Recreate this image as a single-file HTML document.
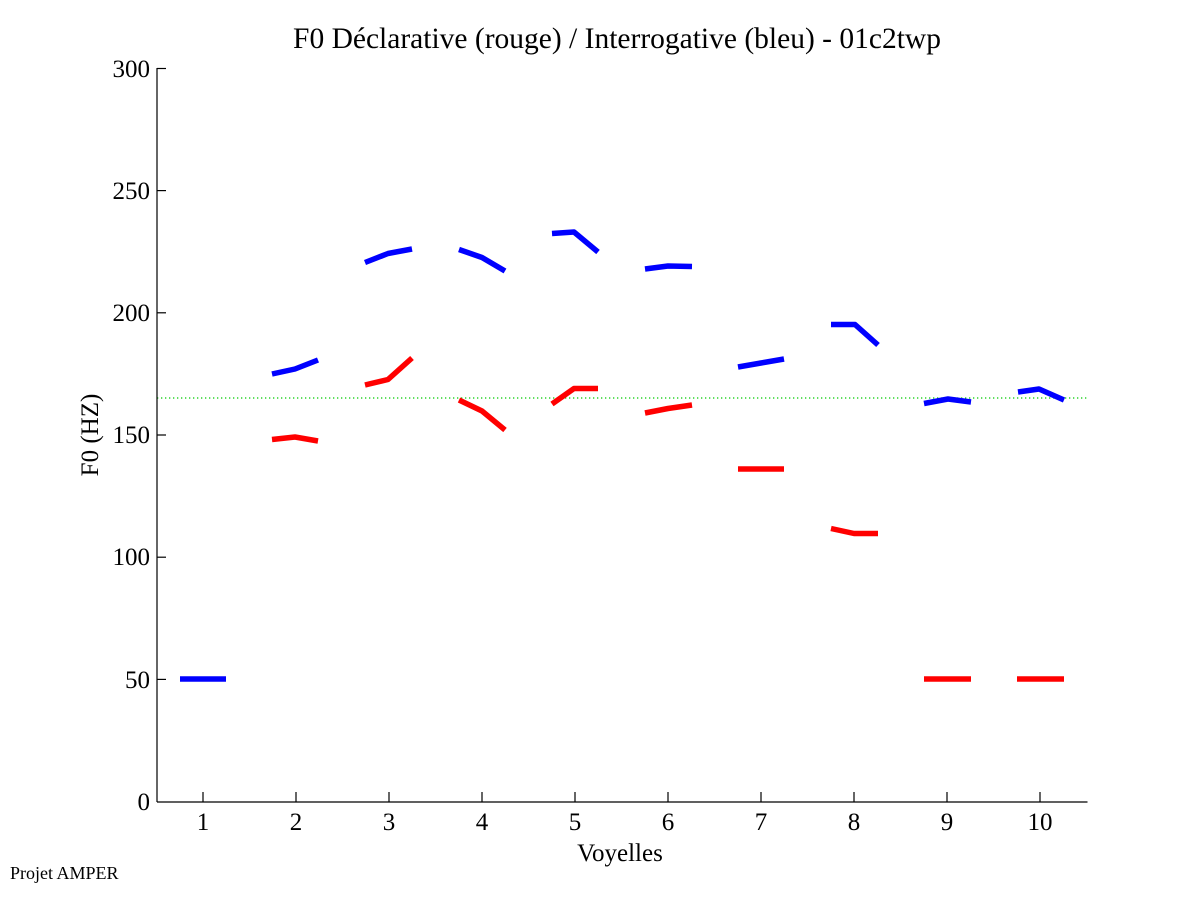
<!DOCTYPE html>
<html>
<head>
<meta charset="utf-8">
<style>
html,body{margin:0;padding:0;background:#fff;}
svg{display:block;}
text{font-family:"Liberation Serif","Times New Roman",serif;fill:#000;}
</style>
</head>
<body>
<svg width="1201" height="901" viewBox="0 0 1201 901" xmlns="http://www.w3.org/2000/svg">
<rect x="0" y="0" width="1201" height="901" fill="#fff"/>
<!-- title -->
<text x="617" y="48" font-size="29.5" text-anchor="middle">F0 Déclarative (rouge) / Interrogative (bleu) - 01c2twp</text>

<!-- green reference line -->
<line x1="157" y1="398" x2="1087" y2="398" stroke="#00cc00" stroke-width="1.3" stroke-dasharray="1.3 2.7"/>

<!-- axes -->
<g stroke="#000" stroke-width="1.2" fill="none">
<line x1="157" y1="68" x2="157" y2="802"/>
<line x1="157" y1="802" x2="1087.5" y2="802"/>
<!-- y ticks -->
<line x1="157" y1="68.5" x2="166" y2="68.5"/>
<line x1="157" y1="190.6" x2="166" y2="190.6"/>
<line x1="157" y1="312.8" x2="166" y2="312.8"/>
<line x1="157" y1="435" x2="166" y2="435"/>
<line x1="157" y1="557.2" x2="166" y2="557.2"/>
<line x1="157" y1="679.4" x2="166" y2="679.4"/>
<!-- x ticks -->
<line x1="203" y1="802" x2="203" y2="792"/>
<line x1="296" y1="802" x2="296" y2="792"/>
<line x1="389" y1="802" x2="389" y2="792"/>
<line x1="482" y1="802" x2="482" y2="792"/>
<line x1="575" y1="802" x2="575" y2="792"/>
<line x1="668" y1="802" x2="668" y2="792"/>
<line x1="761" y1="802" x2="761" y2="792"/>
<line x1="854" y1="802" x2="854" y2="792"/>
<line x1="947" y1="802" x2="947" y2="792"/>
<line x1="1040" y1="802" x2="1040" y2="792"/>
</g>

<!-- y tick labels -->
<g font-size="25" text-anchor="end">
<text x="150" y="77">300</text>
<text x="150" y="199">250</text>
<text x="150" y="321">200</text>
<text x="150" y="443">150</text>
<text x="150" y="565">100</text>
<text x="150" y="688">50</text>
<text x="150" y="810">0</text>
</g>
<!-- x tick labels -->
<g font-size="25" text-anchor="middle">
<text x="203" y="830">1</text>
<text x="296" y="830">2</text>
<text x="389" y="830">3</text>
<text x="482" y="830">4</text>
<text x="575" y="830">5</text>
<text x="668" y="830">6</text>
<text x="761" y="830">7</text>
<text x="854" y="830">8</text>
<text x="947" y="830">9</text>
<text x="1040" y="830">10</text>
</g>

<!-- axis labels -->
<text x="620" y="861" font-size="25" text-anchor="middle">Voyelles</text>
<text transform="translate(98,435) rotate(-90)" font-size="25" text-anchor="middle">F0 (HZ)</text>
<text x="10" y="879" font-size="18">Projet AMPER</text>

<!-- blue (interrogative) -->
<g stroke="#0000ff" stroke-width="5.5" fill="none" stroke-linejoin="round" stroke-linecap="butt">
<polyline points="180,679 226,679"/>
<polyline points="272,374 295,369 318,360"/>
<polyline points="365,262.5 388,253.5 412,249"/>
<polyline points="459,249.5 482,257.5 505,271"/>
<polyline points="552,233.5 574,232 598,252"/>
<polyline points="645,269 668,266 692,266.5"/>
<polyline points="738,367 761,363 784,359"/>
<polyline points="831,324.5 855,324.5 878,345"/>
<polyline points="924,403.5 948,399 971,402"/>
<polyline points="1018,392 1039,389 1064,400"/>
</g>

<!-- red (declarative) -->
<g stroke="#ff0000" stroke-width="5.5" fill="none" stroke-linejoin="round" stroke-linecap="butt">
<polyline points="272,439.5 295,437 318,441"/>
<polyline points="365,385 388,379.5 412,358"/>
<polyline points="459,400 482,411 505,430"/>
<polyline points="552,404 574,388.5 598,388.5"/>
<polyline points="645,413 668,408.5 692,405"/>
<polyline points="738,469 784,469"/>
<polyline points="831,528.5 854,533.5 878,533.5"/>
<polyline points="924,679 971,679"/>
<polyline points="1017,679 1064,679"/>
</g>
</svg>
</body>
</html>
